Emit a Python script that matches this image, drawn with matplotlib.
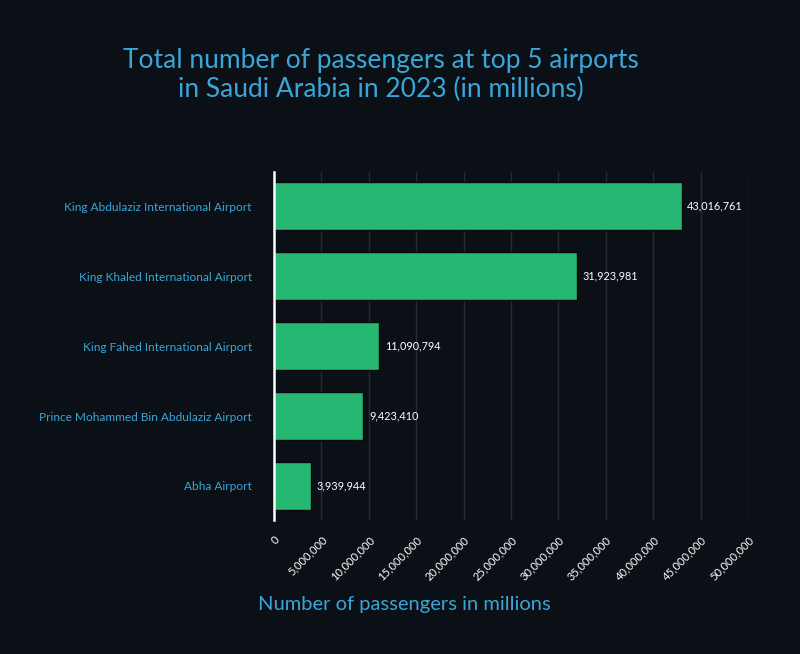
import matplotlib.pyplot as plt
from matplotlib.ticker import FuncFormatter

airports = [
    "King Abdulaziz International Airport",
    "King Khaled International Airport",
    "King Fahed International Airport",
    "Prince Mohammed Bin Abdulaziz Airport",
    "Abha Airport",
]
passengers = [43016761, 31923981, 11090794, 9423410, 3939944]
x_ticks = list(range(0, 50_000_001, 5_000_000))

BG = "#0b0f16"
BLUE = "#3aa6d8"
GREEN = "#26b772"

plt.rcParams["font.family"] = ["Lato", "DejaVu Sans"]

fig = plt.figure(figsize=(8, 6.54), dpi=100, facecolor=BG)
ax = fig.add_axes([0.3425, 0.2049, 0.5925, 0.532], facecolor=BG)

ypos = range(len(airports))
ax.barh(ypos, passengers, height=0.69, color=GREEN, edgecolor="#05080c",
        linewidth=1, zorder=3)

for y, v in zip(ypos, passengers):
    ax.annotate(f"{v:,}", (v, y), xytext=(4, 0), textcoords="offset points",
                va="center", ha="left", color="white", fontsize=7.8)

ax.set_xlim(0, 50_000_000)
ax.set_ylim(len(airports) - 0.514, -0.486)
ax.set_xticks(x_ticks)
ax.xaxis.set_major_formatter(FuncFormatter(lambda v, p: f"{int(v):,}"))
ax.set_yticks(list(ypos))
ax.set_yticklabels(airports)

ax.grid(axis="x", color="#262a31", linewidth=1, zorder=0)
for s in ["top", "right", "bottom"]:
    ax.spines[s].set_visible(False)
ax.spines["left"].set_color("white")
ax.spines["left"].set_linewidth(1.8)
ax.spines["left"].set_zorder(4)

ax.tick_params(axis="y", length=0, pad=16, labelcolor=BLUE, labelsize=8.6)
ax.tick_params(axis="x", length=0, pad=10, labelcolor="white", labelsize=8)
for lbl in ax.get_xticklabels():
    lbl.set_rotation(45)
    lbl.set_ha("right")
    lbl.set_rotation_mode("anchor")

fig.text(0.476, 0.885, "Total number of passengers at top 5 airports\nin Saudi Arabia in 2023 (in millions)",
         ha="center", va="center", color=BLUE, fontsize=19, linespacing=1.2)
fig.text(0.505, 0.076, "Number of passengers in millions", ha="center", va="center",
         color=BLUE, fontsize=14.5)

fig.savefig("out.png", dpi=100, facecolor=BG)
